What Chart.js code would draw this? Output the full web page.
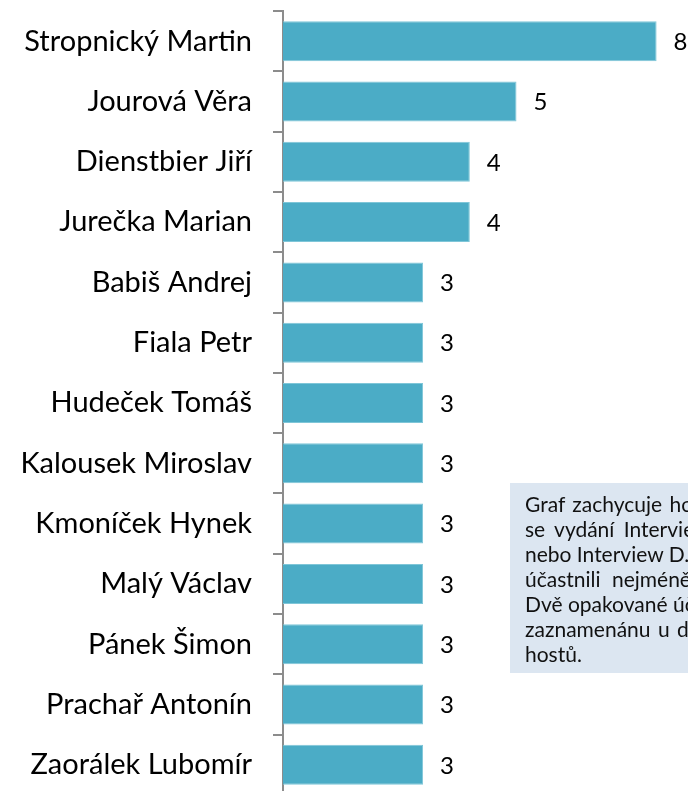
<!DOCTYPE html>
<html>
<head>
<meta charset="utf-8">
<script src="https://cdn.jsdelivr.net/npm/chart.js@4/dist/chart.umd.min.js"></script>
<style>
  html, body { margin: 0; padding: 0; background: #fff; overflow: hidden; width: 688px; height: 791px; }
  #wrap { position: absolute; left: 0; top: 0; width: 760px; height: 800px; }
  #note {
    position: absolute; left: 510px; top: 483px; width: 260px; height: 190px;
    background: #dce6f1; box-sizing: border-box; padding: 8px 14px 0 15px;
    font-family: Lato, sans-serif; font-size: 21px; line-height: 25px; color: #111;
  }
  #note div { white-space: nowrap; }
</style>
</head>
<body>
<div id="wrap"><canvas id="myChart" width="760" height="800"></canvas></div>
<div id="note">
  <div style="word-spacing:2px">Graf zachycuje hosty, kteří</div>
  <div style="word-spacing:4px">se vydání Interview BBC</div>
  <div>nebo Interview D. Jakla</div>
  <div style="word-spacing:6px">účastnili nejméně třikrát.</div>
  <div>Dvě opakované účasti</div>
  <div style="word-spacing:2px">zaznamenánu u dalších</div>
  <div>hostů.</div>
</div>
<script>
// hosts with at least 3 appearances
var names = ["Stropnický Martin", "Jourová Věra", "Dienstbier Jiří", "Jurečka Marian",
  "Babiš Andrej", "Fiala Petr", "Hudeček Tomáš", "Kalousek Miroslav", "Kmoníček Hynek",
  "Malý Václav", "Pánek Šimon", "Prachař Antonín", "Zaorálek Lubomír"];
var counts = [8, 5, 4, 4, 3, 3, 3, 3, 3, 3, 3, 3, 3];

// value labels to the right of each bar
var valueLabels = {
  id: 'valueLabels',
  afterDatasetsDraw: function(chart) {
    var ctx = chart.ctx;
    var meta = chart.getDatasetMeta(0);
    ctx.save();
    ctx.font = '24px Lato, sans-serif';
    ctx.fillStyle = '#000';
    ctx.textAlign = 'left';
    ctx.textBaseline = 'middle';
    meta.data.forEach(function(bar, i) {
      ctx.fillText(counts[i], bar.x + 17, bar.y + 1);
    });
    ctx.restore();
  }
};

var ctx = document.getElementById('myChart').getContext('2d');
var myChart = new Chart(ctx, {
  type: 'bar',
  data: {
    labels: names,
    datasets: [{
      data: counts,
      backgroundColor: "#4bacc6",
      borderColor: "#7fc6d8",
      borderWidth: { top: 1, bottom: 1, left: 0, right: 1 },
      borderSkipped: 'left',
      categoryPercentage: 1,
      barPercentage: 0.663
    }]
  },
  options: {
    indexAxis: 'y',
    responsive: false,
    animation: false,
    layout: { padding: { left: 0, right: 10, top: 11, bottom: 5 } },
    plugins: { legend: { display: false }, tooltip: { enabled: false } },
    scales: {
      x: { display: false, min: 0, max: 10 },
      y: {
        offset: true,
        afterFit: function(scale) {
          scale.width = 283;
          scale.paddingTop = 0;
          scale.paddingBottom = 0;
        },
        border: { display: true, color: '#8c8c8c', width: 2 },
        grid: { drawOnChartArea: false, offset: true, tickLength: 10, color: '#8c8c8c', lineWidth: 2 },
        ticks: { color: '#000', padding: 21, font: { family: 'Lato, sans-serif', size: 29 } }
      }
    }
  },
  plugins: [valueLabels]
});
</script>
</body>
</html>
